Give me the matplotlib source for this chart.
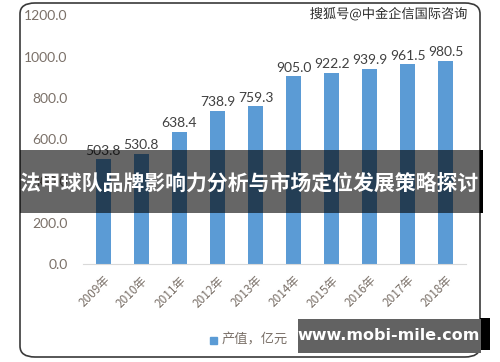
import matplotlib.pyplot as plt
from matplotlib.patches import FancyBboxPatch, Rectangle
import matplotlib.patheffects as pe

plt.rcParams['font.family'] = ['Noto Sans CJK SC', 'DejaVu Sans']

years = ['2009年', '2010年', '2011年', '2012年', '2013年',
         '2014年', '2015年', '2016年', '2017年', '2018年']
values = [503.8, 530.8, 638.4, 738.9, 759.3, 905.0, 922.2, 939.9, 961.5, 980.5]
yticks = [0, 200, 400, 600, 800, 1000, 1200]
legend_label = '产值，亿元'
title = '法甲球队品牌影响力分析与市场定位发展策略探讨'
watermark = '搜狐号@中金企信国际咨询'
site = 'www.mobi-mile.com'

W, H = 500, 362
fig = plt.figure(figsize=(5, 3.62), dpi=100)
fig.patch.set_facecolor('white')

# rounded chart frame
frame = FancyBboxPatch((20 / W, 1 - 357 / H), 460 / W, 354 / H,
                       boxstyle='round,pad=0,rounding_size=0.03',
                       transform=fig.transFigure, facecolor='white',
                       edgecolor='#3a3a3a', linewidth=1.2, zorder=-1)
fig.patches.append(frame)

ax = fig.add_axes([83 / W, 1 - 264 / H, 383 / W, 249 / H])
ax.set_facecolor('none')
x = range(len(years))
bars = ax.bar(x, values, width=0.4, color='#5b9bd5', zorder=2)
for xi, v in zip(x, values):
    ax.text(xi, v + 12, f'{v:.1f}', ha='center', va='bottom',
            fontsize=10, color='#404040', family=['Lato'])

ax.set_xlim(-0.53, 9.53)
ax.set_ylim(0, 1200)
ax.set_yticks(yticks)
ax.set_yticklabels([f'{t:.1f}' for t in yticks], family=['Lato'])
ax.set_xticks(list(x))
ax.set_xticklabels(years, rotation=45, ha='right', rotation_mode='anchor')
ax.tick_params(axis='both', length=0, colors='#7a7068')
ax.tick_params(axis='x', pad=7, labelsize=8.5)
ax.tick_params(axis='y', pad=11, labelsize=10)
for s in ['top', 'right', 'left']:
    ax.spines[s].set_visible(False)
ax.spines['bottom'].set_color('#d9d9d9')

# legend
fig.patches.append(Rectangle((210 / W, 1 - 344 / H), 7 / W, 7 / H,
                             transform=fig.transFigure, color='#5b9bd5'))
fig.text(222 / W, 1 - 340 / H, legend_label, fontsize=9.5, color='#7a7068',
         va='center', ha='left')

# watermark
fig.text(468 / W, 1 - 14 / H, watermark, fontsize=9.5, color='#2a2a2a',
         ha='right', va='center',
         path_effects=[pe.withStroke(linewidth=2, foreground='white')])

# dark banner with title
fig.patches.append(Rectangle((20 / W, 1 - 213 / H), 460 / W, 63 / H,
                             transform=fig.transFigure, facecolor='black',
                             alpha=0.6, zorder=5))
fig.patches.append(Rectangle((480 / W, 1 - 213 / H), 3 / W, 63 / H,
                             transform=fig.transFigure, facecolor='black', zorder=5))
fig.text(249 / W, 1 - 183 / H, title, fontsize=15, color='white',
         weight='bold', ha='center', va='center', zorder=6)

# site box
fig.patches.append(Rectangle((480 / W, 1 - 350 / H), 10 / W, 32 / H,
                             transform=fig.transFigure, facecolor='black', zorder=5))
fig.patches.append(Rectangle((298 / W, 1 - 353 / H), 183 / W, 34 / H,
                             transform=fig.transFigure, facecolor='#626262', zorder=5))
fig.text(389 / W, 1 - 336 / H, site, fontsize=11.5, color='white',
         weight='bold', ha='center', va='center', zorder=6,
         family=['DejaVu Sans'])

fig.savefig('out.png', dpi=100)
